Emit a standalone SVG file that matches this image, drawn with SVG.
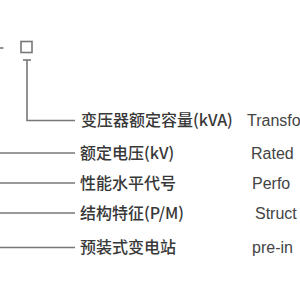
<svg xmlns="http://www.w3.org/2000/svg" width="300" height="300" viewBox="0 0 300 300">
<style>
.ln{stroke:#777;stroke-width:1.6;fill:none}
.zh{font-family:"Noto Sans CJK SC","Liberation Sans",sans-serif;font-size:16px;fill:#383838;font-weight:500}
.en{font-family:"Liberation Sans",Arial,sans-serif;font-size:16px;fill:#444}
</style>
<rect width="300" height="300" fill="#fff"/>
<g id="connectors">
<line class="ln" x1="0" y1="48" x2="3.5" y2="48"/>
<rect class="ln" x="21" y="41.5" width="11" height="11"/>
<line class="ln" x1="23" y1="60" x2="31" y2="60"/>
<polyline class="ln" points="27,60 27,120.5 75,120.5"/>
<line class="ln" x1="0" y1="153" x2="75" y2="153"/>
<line class="ln" x1="0" y1="183" x2="75" y2="183"/>
<line class="ln" x1="0" y1="213" x2="75" y2="213"/>
<line class="ln" x1="0" y1="247.5" x2="75" y2="247.5"/>
</g>
<g id="n1"><text class="zh" x="81" y="126">变压器额定容量(kVA)</text><text class="en" x="247" y="126">Transfo</text></g>
<g id="n2"><text class="zh" x="80" y="159">额定电压(kV)</text><text class="en" x="251" y="159">Rated</text></g>
<g id="n3"><text class="zh" x="80" y="189">性能水平代号</text><text class="en" x="252" y="189">Perfo</text></g>
<g id="n4"><text class="zh" x="80" y="219">结构特征(P/M)</text><text class="en" x="255" y="219">Struct</text></g>
<g id="n5"><text class="zh" x="80" y="253">预装式变电站</text><text class="en" x="252" y="253">pre-in</text></g>
</svg>
